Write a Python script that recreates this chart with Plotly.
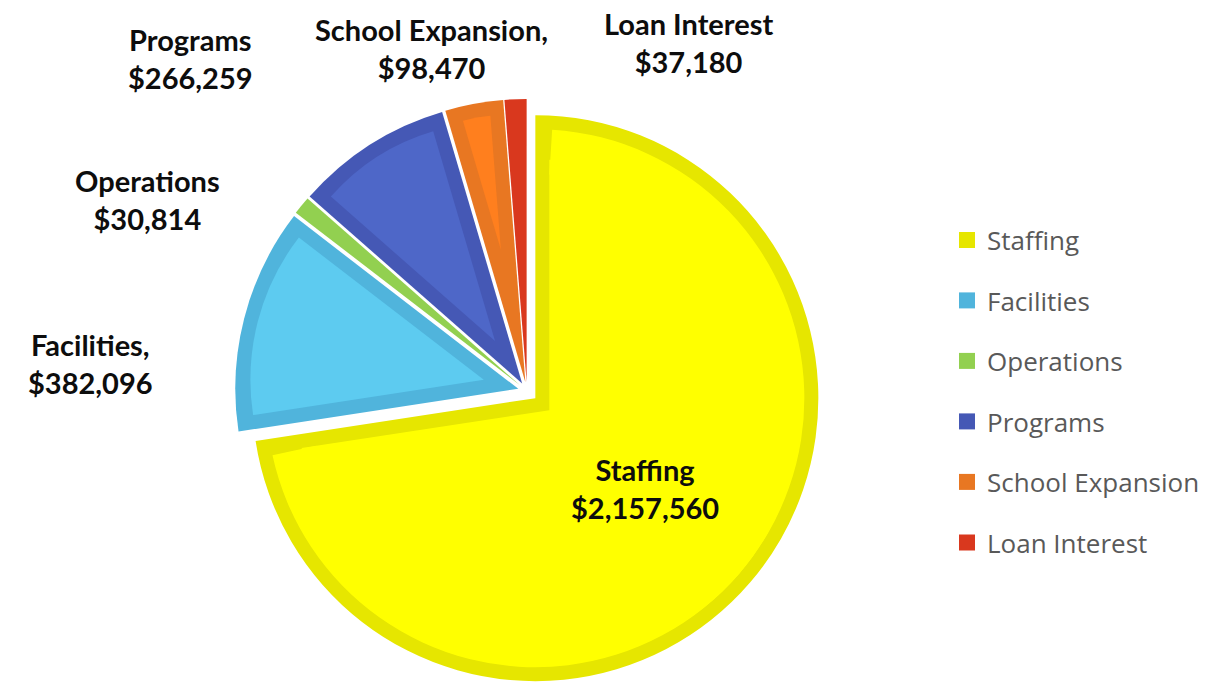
import math
import plotly.graph_objects as go

# ---------------- data ----------------
categories = ["Staffing", "Facilities", "Operations", "Programs", "School Expansion", "Loan Interest"]
amounts = [2157560, 382096, 30814, 266259, 98470, 37180]
label_names = ["Staffing", "Facilities,", "Operations", "Programs", "School Expansion,", "Loan Interest"]

# ---------------- styles ----------------
fill_colors = ["#FFFF00", "#5DCBF0", "#92D050", "#4E67C8", "#FF7F1E", "#D9381E"]
edge_colors = ["#E6E600", "#50B4DC", "#92D050", "#4558B5", "#E87722", "#D9381E"]

W, H = 1219, 685
CX, CY = 527, 391          # pie centre (px)
R = 283                    # outer radius (px)
BORDER = 14                # inset border thickness (px)
PULL_PX = [11, 9, 9, 9, 9, 9]

# label anchor positions (px, centre of text block)
label_pos = [(645, 488), (90, 363), (147, 200), (190, 58), (431, 49), (688, 42)]

total = sum(amounts)
fracs = [a / total for a in amounts]
starts = []
acc = 0.0
for f in fracs:
    starts.append(acc * 360)
    acc += f


def domain_for(cx, cy, size):
    half = size / 2
    return dict(x=[(cx - half) / W, (cx + half) / W],
                y=[max(0.0, 1 - (cy + half) / H), min(1.0, 1 - (cy - half) / H)])


fig = go.Figure()

# outer (border-coloured) exploded pie
fig.add_trace(go.Pie(
    labels=categories, values=amounts, sort=False, direction="clockwise", rotation=0,
    marker=dict(colors=edge_colors, line=dict(width=0)),
    pull=[p / R for p in PULL_PX],
    domain=domain_for(CX, CY, 2 * R + 2 * max(PULL_PX)),
    textinfo="none", hoverinfo="label+value+percent", showlegend=False,
))

# inner lighter fills (inset by BORDER), each centred on its own inset apex
for i in range(len(amounts)):
    half_ang = math.radians(180 * fracs[i])
    mid = math.radians(starts[i] + 180 * fracs[i])
    ux, uy = math.sin(mid), -math.cos(mid)
    o = BORDER / math.sin(half_ang)
    r_in = R - BORDER - o
    if r_in < 25:
        continue
    off = PULL_PX[i] + o
    fig.add_trace(go.Pie(
        labels=[categories[i], "_rest"], values=[amounts[i], total - amounts[i]],
        sort=False, direction="clockwise", rotation=starts[i],
        marker=dict(colors=[fill_colors[i], "rgba(0,0,0,0)"], line=dict(width=0)),
        domain=domain_for(CX + off * ux, CY + off * uy, 2 * r_in),
        textinfo="none", hoverinfo="skip", showlegend=False,
    ))
    if 180 * fracs[i] > 60:
        # outer ring part so the inset border stays even near the rim
        r_a = R - BORDER
        r_h = r_a - 45
        delta = math.degrees(math.asin(BORDER / r_h))
        dv = delta / 360 * total
        v = amounts[i] - 2 * dv
        fig.add_trace(go.Pie(
            labels=[categories[i], "_rest"], values=[v, total - v],
            sort=False, direction="clockwise", rotation=starts[i] + delta,
            marker=dict(colors=[fill_colors[i], "rgba(0,0,0,0)"], line=dict(width=0)),
            hole=r_h / r_a,
            domain=domain_for(CX + PULL_PX[i] * ux, CY + PULL_PX[i] * uy, 2 * r_a),
            textinfo="none", hoverinfo="skip", showlegend=False,
        ))

# legend entries
for i, name in enumerate(categories):
    fig.add_trace(go.Scatter(
        x=[None], y=[None], mode="markers", name=name,
        marker=dict(symbol="square", size=16, color=edge_colors[i]),
        legendgroup=f"g{i}", showlegend=True, hoverinfo="skip",
    ))

# data labels
for i in range(len(amounts)):
    px, py = label_pos[i]
    fig.add_annotation(
        x=px / W, y=1 - py / H, xref="paper", yref="paper",
        xanchor="center", yanchor="middle", showarrow=False, align="center",
        text=f"{label_names[i]}<br>${amounts[i]:,}",
        font=dict(family="Lato", size=29, color="#0D0D0D", weight="bold"),
    )

fig.update_layout(
    width=W, height=H,
    margin=dict(l=0, r=0, t=0, b=0, autoexpand=False),
    paper_bgcolor="white", plot_bgcolor="white",
    xaxis=dict(visible=False), yaxis=dict(visible=False),
    legend=dict(
        x=947 / W, xanchor="left", y=1 - 391.5 / H, yanchor="middle",
        traceorder="grouped", tracegroupgap=23.7,
        font=dict(family="Open Sans", size=26, color="#595959"),
        bgcolor="rgba(0,0,0,0)", borderwidth=0,
    ),
)

fig.write_html("out.html", config={"displayModeBar": False},
               post_script="document.body.style.margin='0';")
